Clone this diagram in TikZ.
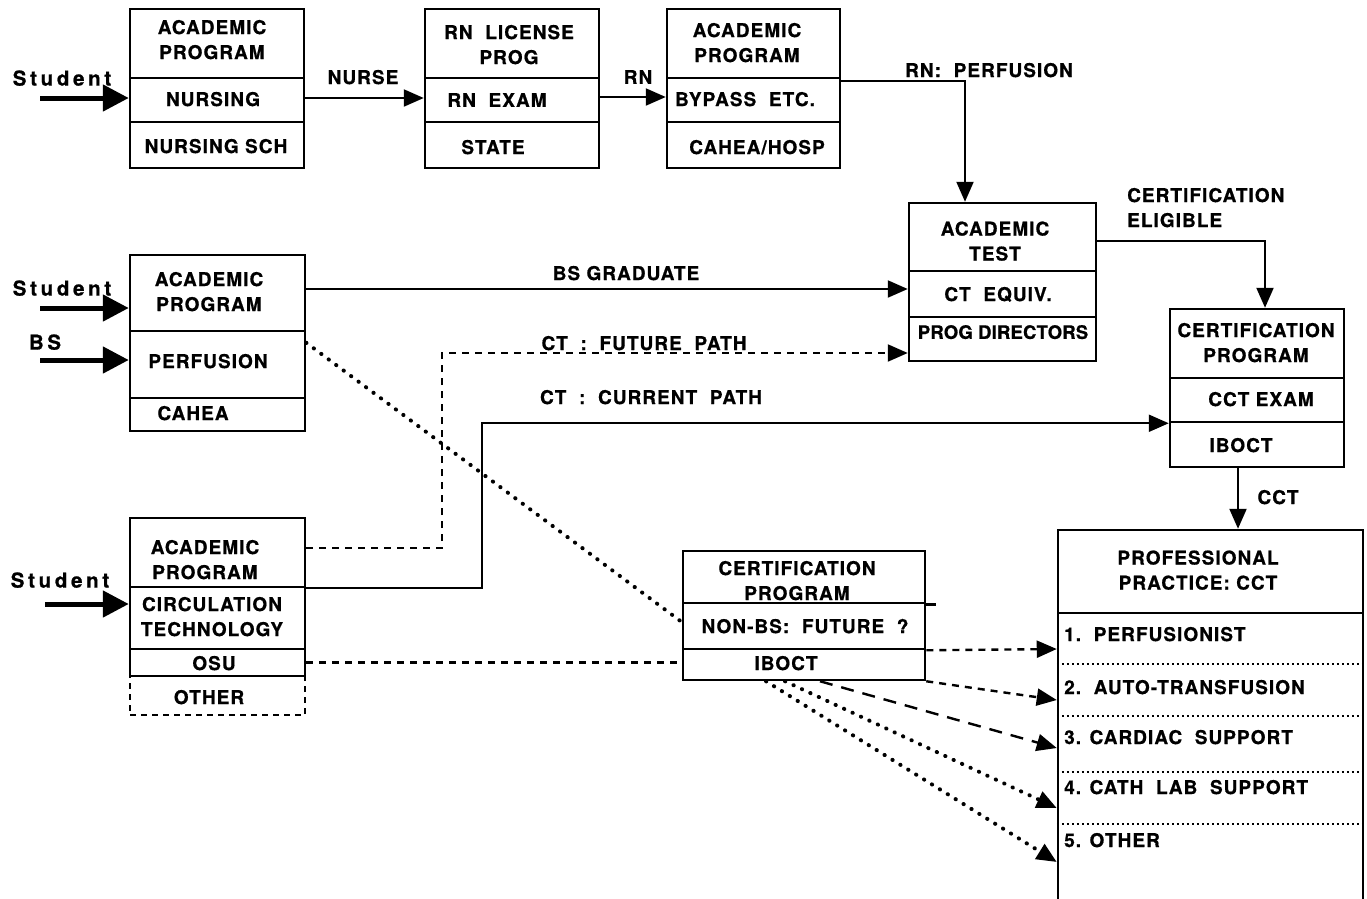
\documentclass[tikz,border=0pt]{standalone}
\usepackage{fontspec}
\setmainfont{TeX Gyre Heros}[LetterSpace=5.5, BoldFeatures={FakeBold=0.7}]
\newfontfamily\spacedfont{TeX Gyre Heros}[LetterSpace=18, BoldFeatures={FakeBold=0.9}]
\usetikzlibrary{arrows.meta,calc}
\begin{document}
\begin{tikzpicture}[x=1pt,y=-1pt,
  comp/.style={draw, line width=2.5pt, inner sep=0pt, rectangle},
  txt/.style={font=\fontsize{19}{25}\selectfont\bfseries, align=center, inner sep=0pt, text depth=0pt},
  stxt/.style={font=\fontsize{20.5}{25}\selectfont\spacedfont\bfseries, inner sep=0pt, text depth=0pt},
  tipa/.style={-{Triangle[length=20pt,width=17pt]}},
  conn/.style={line width=2.2pt, tipa},
  stud/.style={line width=5pt, -{Triangle[length=26pt,width=26pt]}},
  dashconn/.style={line width=2.4pt, dash pattern=on 7pt off 6pt},
  longdash/.style={line width=2.4pt, dash pattern=on 13pt off 9pt},
  dotconn/.style={line width=4pt, line cap=round, dash pattern=on 0.3pt off 9pt},
  dotdiv/.style={line width=2.5pt, dash pattern=on 2pt off 3pt},
]
\useasboundingbox (0,0) rectangle (1367,898);

% ---------- Box 1: nursing ----------
\node[comp, minimum width=174pt, minimum height=69pt] (n1a) at (217,43.5) {};
\node[comp, minimum width=174pt, minimum height=44pt] (n1b) at (217,100) {};
\node[comp, minimum width=174pt, minimum height=46pt] (n1c) at (217,145) {};
\node[txt] (t1a) at (212,39.5) {ACADEMIC\\PROGRAM};
\node[txt] (t1b) at (213,99) {NURSING};
\node[txt] (t1c) at (216,146) {NURSING SCH};

% ---------- Box 2: RN license ----------
\node[comp, minimum width=174pt, minimum height=69pt] (n2a) at (512,43.5) {};
\node[comp, minimum width=174pt, minimum height=44pt] (n2b) at (512,100) {};
\node[comp, minimum width=174pt, minimum height=46pt] (n2c) at (512,145) {};
\node[txt] (t2a) at (509,44.5) {RN\ \ LICENSE\\PROG};
\node[txt] (t2b) at (497,100) {RN\ \ EXAM};
\node[txt] (t2c) at (493,147) {STATE};

% ---------- Box 3: bypass ----------
\node[comp, minimum width=173pt, minimum height=69pt] (n3a) at (753.5,43.5) {};
\node[comp, minimum width=173pt, minimum height=44pt] (n3b) at (753.5,100) {};
\node[comp, minimum width=173pt, minimum height=46pt] (n3c) at (753.5,145) {};
\node[txt] (t3a) at (747,42.5) {ACADEMIC\\PROGRAM};
\node[txt] (t3b) at (745,99) {BYPASS\ \ ETC.};
\node[txt] (t3c) at (757,147) {CAHEA/HOSP};

% ---------- Academic test ----------
\node[comp, minimum width=187pt, minimum height=68pt] (ata) at (1002.5,237) {};
\node[comp, minimum width=187pt, minimum height=46pt] (atb) at (1002.5,294) {};
\node[comp, minimum width=187pt, minimum height=44pt] (atc) at (1002.5,339) {};
\node[txt] (tata) at (995,241) {ACADEMIC\\TEST};
\node[txt] (tatb) at (998,294) {CT\ \ EQUIV.};
\node[txt, font=\fontsize{18.5}{25}\selectfont\bfseries\addfontfeatures{LetterSpace=1}] (tatc) at (1003,332) {PROG\ DIRECTORS};

% ---------- Certification program (right) ----------
\node[comp, minimum width=174pt, minimum height=69pt] (cpa) at (1257,343.5) {};
\node[comp, minimum width=174pt, minimum height=44pt] (cpb) at (1257,400) {};
\node[comp, minimum width=174pt, minimum height=45pt] (cpc) at (1257,444.5) {};
\node[txt] (tcpa) at (1256,342.5) {CERTIFICATION\\PROGRAM};
\node[txt] (tcpb) at (1261,399) {CCT EXAM};
\node[txt] (tcpc) at (1241,445) {IBOCT};

% ---------- Perfusion box ----------
\node[comp, minimum width=175pt, minimum height=76pt] (n5a) at (217.5,293) {};
\node[comp, minimum width=175pt, minimum height=67pt] (n5b) at (217.5,364.5) {};
\node[comp, minimum width=175pt, minimum height=33pt] (n5c) at (217.5,414.5) {};
\node[txt] (t5a) at (209,291.5) {ACADEMIC\\PROGRAM};
\node[txt] (t5b) at (208,361) {PERFUSION};
\node[txt] (t5c) at (193,413) {CAHEA};

% ---------- Circulation technology box ----------
\node[comp, minimum width=175pt, minimum height=69pt] (n7a) at (217.5,552.5) {};
\node[comp, minimum width=175pt, minimum height=62pt] (n7b) at (217.5,618) {};
\node[comp, minimum width=175pt, minimum height=27pt] (n7c) at (217.5,662.5) {};
\node[comp, line width=2pt, dash pattern=on 6pt off 5pt, minimum width=175pt, minimum height=39pt] (n7d) at (217.5,695.5) {};
\node[txt] (t7a) at (205,559.5) {ACADEMIC\\PROGRAM};
\node[txt] (t7b) at (212,616.5) {CIRCULATION\\TECHNOLOGY};
\node[txt] (t7c) at (214,663) {OSU};
\node[txt] (t7d) at (209,697) {OTHER};

% ---------- Certification program (middle) ----------
\node[comp, minimum width=242pt, minimum height=52pt] (c2a) at (804,577) {};
\node[comp, minimum width=242pt, minimum height=46pt] (c2b) at (804,626) {};
\node[comp, minimum width=242pt, minimum height=31pt] (c2c) at (804,664.5) {};
\node[txt] (tc2a) at (797,580.5) {CERTIFICATION\\PROGRAM};
\node[txt] (tc2b) at (805,626) {NON-BS:\ \ FUTURE\ \ ?};
\node[txt] (tc2c) at (786,663) {IBOCT};
\draw[line width=2.5pt] (c2a.south east) -- ++(10,0);

% ---------- Professional practice ----------
\node[comp, minimum width=305pt, minimum height=83pt] (ppa) at (1210.5,571.5) {};
\node[comp, minimum width=305pt, minimum height=297pt] (ppb) at (1210.5,761.5) {};
\node[txt] (tppa) at (1198,570) {PROFESSIONAL\\PRACTICE: CCT};
\node[txt, anchor=west] (i1) at (1064,634) {1.\ \ PERFUSIONIST};
\node[txt, anchor=west] (i2) at (1064,687) {2.\ \ AUTO-TRANSFUSION};
\node[txt, anchor=west] (i3) at (1064,737) {3. CARDIAC\ \ SUPPORT};
\node[txt, anchor=west] (i4) at (1064,787) {4. CATH\ \ LAB\ \ SUPPORT};
\node[txt, anchor=west] (i5) at (1064,840) {5. OTHER};
\foreach \d in {52,104,160,212}
  \draw[dotdiv] ($(ppb.north west)+(0,\d)$) -- ($(ppb.north east)+(0,\d)$);

% ---------- free labels ----------
\node[stxt] (st1) at (62,78) {Student};
\node[stxt] (st2) at (62,288) {Student};
\node[stxt] (bs) at (45,342) {BS};
\node[stxt] (st3) at (60,580) {Student};
\node[txt] (lnurse) at (363,77) {NURSE};
\node[txt] (lrn) at (638,77) {RN};
\node[txt] (lrnp) at (989,70) {RN:\ \ PERFUSION};
\node[txt, align=left, anchor=west] (lce) at (1127,207.5) {CERTIFICATION\\ELIGIBLE};
\node[txt] (lbsg) at (626,273) {BS GRADUATE};
\node[txt] (lfut) at (644,343) {CT\ \ :\ \ FUTURE\ \ PATH};
\node[txt] (lcur) at (651,397) {CT\ \ :\ \ CURRENT\ \ PATH};
\node[txt] (lcct) at (1278,497) {CCT};

% ---------- student inputs ----------
\coordinate (s1) at (40,98);
\draw[stud] (s1) -- (s1 -| n1b.west);
\coordinate (s2) at (40,308);
\draw[stud] (s2) -- (s2 -| n5a.west);
\coordinate (s3) at (40,360);
\draw[stud] (s3) -- (s3 -| n5b.west);
\coordinate (s4) at (45,604);
\draw[stud] (s4) -- (s4 -| n7b.west);

% ---------- connectors ----------
\draw[conn] ([yshift=2pt]n1b.east) -- ([yshift=2pt]n2b.west);
\draw[conn] ([yshift=3pt]n2b.east) -- ([yshift=3pt]n3b.west);
\coordinate (rp0) at ([yshift=-4pt]n3b.north east);
\coordinate (rp1) at ([xshift=-37.5pt]ata.north);
\draw[conn] (rp0) -| (rp1);
\coordinate (ce0) at ([yshift=-4pt]ata.east);
\coordinate (ce1) at ([xshift=8pt]cpa.north);
\draw[conn] (ce0) -| (ce1);
\coordinate (bsg) at ([yshift=4pt]n5a.east);
\draw[conn] (bsg) -- (bsg -| atb.west);
\coordinate (f0) at ([yshift=4.5pt]n7a.east);
\coordinate (f1) at ([yshift=-14pt]atc.west);
\draw[dashconn] (f0) -- ++(136,0) |- ([xshift=-18pt]f1);
\draw[line width=2.2pt, tipa] ([xshift=-19pt]f1) -- (f1);
\coordinate (c0) at ([yshift=-2pt]n7b.north east);
\draw[conn] (c0) -- ++(176,0) |- (cpb.south west);
\coordinate (k0) at ([xshift=-19pt]cpc.south);
\draw[conn] (k0) -- (k0 |- ppa.north);

\draw[dotconn] ([yshift=-13pt]n5b.north east) -- ([yshift=4pt]c2b.west);
\draw[dashconn] (n7c.east) -- (n7c.east -| c2c.west);

\coordinate (e1) at ($(i1.west -| ppb.west)+(0,15)$);
\coordinate (e2) at ($(i2.west -| ppb.west)+(0,13)$);
\coordinate (e3) at ($(i3.west -| ppb.west)+(0,11)$);
\coordinate (e4) at ($(i4.west -| ppb.west)+(0,21)$);
\coordinate (e5) at ($(i5.west -| ppb.west)+(0,22)$);
\draw[dashconn, tipa] (c2b.south east) -- (e1);
\draw[dashconn, tipa] (c2c.south east) -- (e2);
\draw[longdash, tipa] ([xshift=16pt]c2c.south) -- (e3);
\draw[dotconn, tipa] ([xshift=-19pt]c2c.south) -- (e4);
\draw[dotconn, tipa] ([xshift=-38pt]c2c.south) -- (e5);
\end{tikzpicture}
\end{document}
